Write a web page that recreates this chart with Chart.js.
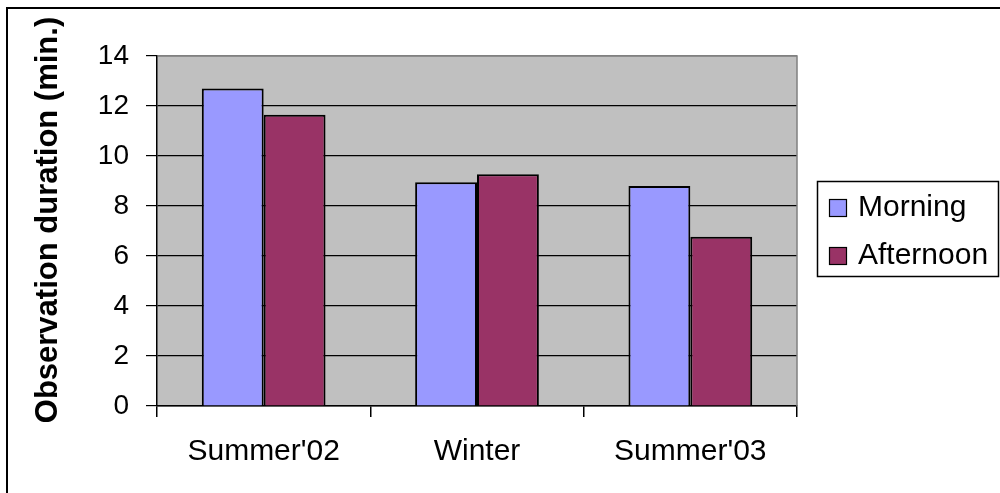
<!DOCTYPE html>
<html>
<head>
<meta charset="utf-8">
<script src="https://cdn.jsdelivr.net/npm/chart.js@4/dist/chart.umd.min.js"></script>
<style>
  html, body { margin: 0; padding: 0; background: #fff; }
  #wrap { width: 1000px; height: 493px; position: relative; }
</style>
</head>
<body>
<div id="wrap"><canvas id="c"></canvas></div>
<script>
// Observation duration per season, split by time of day
const categories = ["Summer'02", "Winter", "Summer'03"];
const seriesNames = ["Morning", "Afternoon"];
const morning = [12.7, 8.95, 8.8];
const afternoon = [11.65, 9.27, 6.77];
const yTickValues = [0, 2, 4, 6, 8, 10, 12, 14];
const yTitle = "Observation duration (min.)";

const FONT = '"Liberation Sans", Arial, Helvetica, sans-serif';
Chart.defaults.font.family = FONT;
Chart.defaults.color = '#000';

// Outer frame and grey plot background, painted before the grid
const plotBackground = {
  id: 'plotBackground',
  beforeDraw(chart) {
    const { ctx, chartArea: a } = chart;
    ctx.save();
    ctx.fillStyle = '#fff';
    ctx.fillRect(0, 0, chart.width, chart.height);
    ctx.fillStyle = '#C0C0C0';
    ctx.fillRect(a.left, a.top, a.right - a.left, a.bottom - a.top);
    ctx.strokeStyle = '#000';
    ctx.lineWidth = 2;
    ctx.beginPath();
    ctx.moveTo(7, chart.height + 2);
    ctx.lineTo(7, 8);
    ctx.lineTo(chart.width + 2, 8);
    ctx.stroke();
    ctx.restore();
  }
};

// Grey border on the top and right of the plot area, the value-axis title and the boxed legend
const frameAndLegend = {
  id: 'frameAndLegend',
  afterDraw(chart) {
    const { ctx, chartArea: a } = chart;
    ctx.save();
    ctx.strokeStyle = '#808080';
    ctx.lineWidth = 1.5;
    ctx.beginPath();
    ctx.moveTo(a.left + 1, a.top);
    ctx.lineTo(a.right, a.top);
    ctx.lineTo(a.right, a.bottom);
    ctx.stroke();

    // rotated axis title
    ctx.save();
    ctx.translate(48, 220);
    ctx.rotate(-Math.PI / 2);
    ctx.font = 'bold 31px ' + FONT;
    ctx.fillStyle = '#000';
    ctx.textAlign = 'center';
    ctx.textBaseline = 'middle';
    ctx.fillText(yTitle, 0, 0);
    ctx.restore();

    ctx.strokeStyle = '#000';
    ctx.lineWidth = 1.5;
    ctx.strokeRect(817.5, 181.5, 181, 95);
    ctx.font = '30px ' + FONT;
    ctx.textAlign = 'left';
    ctx.textBaseline = 'alphabetic';
    chart.data.datasets.forEach((ds, i) => {
      const y = 199.5 + i * 48;
      ctx.fillStyle = ds.backgroundColor;
      ctx.fillRect(829.5, y, 17, 17);
      ctx.lineWidth = 1.2;
      ctx.strokeStyle = '#000';
      ctx.strokeRect(829.5, y, 17, 17);
      ctx.fillStyle = '#000';
      ctx.fillText(ds.label, 858, y + 16.5);
    });
    ctx.restore();
  }
};

new Chart(document.getElementById('c'), {
  type: 'bar',
  data: {
    labels: categories,
    datasets: [
      { label: seriesNames[0], data: morning, backgroundColor: '#9999FF', borderColor: '#000', borderWidth: 2 },
      { label: seriesNames[1], data: afternoon, backgroundColor: '#993366', borderColor: '#000', borderWidth: 2 }
    ]
  },
  options: {
    responsive: true,
    maintainAspectRatio: false,
    devicePixelRatio: 1,
    animation: false,
    layout: { padding: { left: 0, top: 56, right: 203, bottom: 0 } },
    datasets: { bar: { categoryPercentage: 0.58, barPercentage: 1.0 } },
    plugins: { legend: { display: false }, tooltip: { enabled: false } },
    scales: {
      x: {
        grid: { display: true, drawOnChartArea: false, drawTicks: true, tickLength: 11, color: '#000', lineWidth: 1.5, offset: true },
        border: { color: '#000', width: 1.5 },
        ticks: { font: { size: 30 }, color: '#000', padding: 17, maxRotation: 0 },
        afterFit(scale) { scale.height = 87; }
      },
      y: {
        min: 0,
        max: 14,
        afterBuildTicks(scale) { scale.ticks = yTickValues.map(v => ({ value: v })); },
        grid: {
          color: ctx => (ctx.tick && ctx.tick.value === 14 ? '#808080' : '#000'),
          tickColor: '#000',
          lineWidth: 1.2,
          tickLength: 11
        },
        border: { color: '#000', width: 1.5 },
        ticks: { font: { size: 28 }, color: '#000', padding: 17 },
        title: { display: false, text: yTitle },
        afterFit(scale) { scale.width = 157; }
      }
    }
  },
  plugins: [plotBackground, frameAndLegend]
});
</script>
</body>
</html>
